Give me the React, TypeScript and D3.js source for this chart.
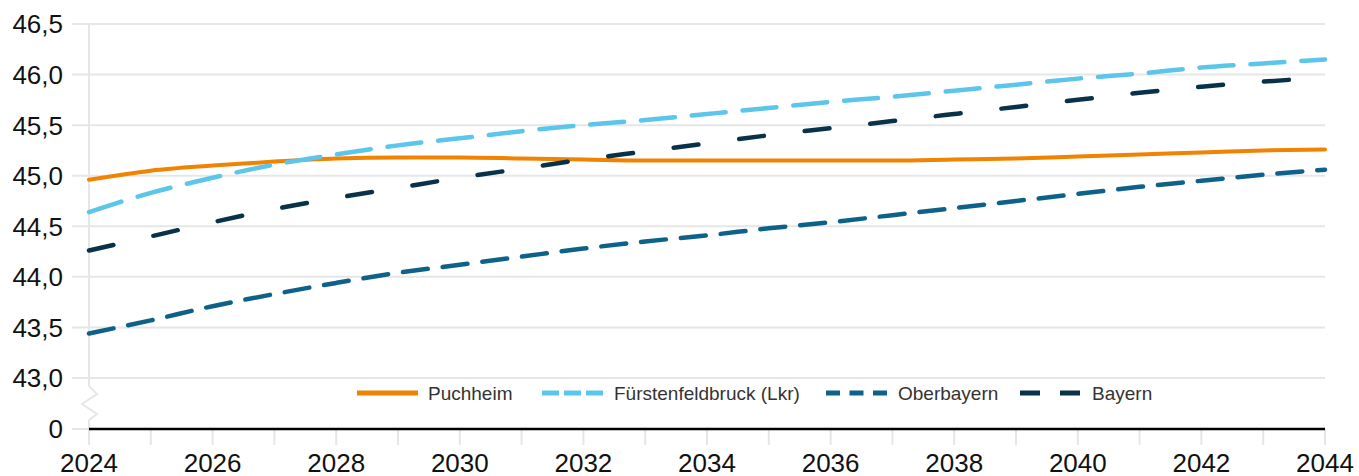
import React from "react";
import * as d3 from "d3";

const years = d3.range(2024, 2045);
const yTicks = [43.0, 43.5, 44.0, 44.5, 45.0, 45.5, 46.0, 46.5];
const xTickLabels = [2024, 2026, 2028, 2030, 2032, 2034, 2036, 2038, 2040, 2042, 2044];

const puchheim = [44.96, 45.05, 45.10, 45.14, 45.17, 45.18, 45.18, 45.17, 45.16, 45.15, 45.15, 45.15, 45.15, 45.15, 45.16, 45.17, 45.19, 45.21, 45.23, 45.25, 45.26];
const fuerstenfeldbruck = [44.64, 44.83, 44.98, 45.11, 45.21, 45.30, 45.37, 45.44, 45.50, 45.55, 45.61, 45.67, 45.73, 45.78, 45.84, 45.90, 45.96, 46.01, 46.07, 46.11, 46.15];
const oberbayern = [43.44, 43.57, 43.71, 43.83, 43.94, 44.04, 44.12, 44.20, 44.28, 44.35, 44.41, 44.48, 44.54, 44.61, 44.68, 44.75, 44.82, 44.89, 44.95, 45.01, 45.06];
const bayern = [44.26, 44.40, 44.54, 44.67, 44.78, 44.88, 44.98, 45.07, 45.16, 45.24, 45.32, 45.40, 45.47, 45.54, 45.61, 45.68, 45.75, 45.82, 45.88, 45.93, 45.97];

const seriesNames = ["Puchheim", "Fürstenfeldbruck (Lkr)", "Oberbayern", "Bayern"];

export default function App() {
  const W = 1359, H = 476;
  const x = d3.scaleLinear().domain([2024, 2044]).range([89, 1325]);
  const y = d3.scaleLinear().domain([43, 46.5]).range([378, 24]);
  const y0 = 429;

  const series = [
    { name: seriesNames[0], data: puchheim, color: "#f08300", dash: "", legendDash: "", width: 4 },
    { name: seriesNames[1], data: fuerstenfeldbruck, color: "#5bc5ea", dash: "34 17", legendDash: "17 5", width: 4.5 },
    { name: seriesNames[2], data: oberbayern, color: "#0e6289", dash: "25 15", legendDash: "14 9.5", width: 4.5 },
    { name: seriesNames[3], data: bayern, color: "#08324a", dash: "25 41", legendDash: "20 20", width: 4.5 },
  ];

  const line = d3
    .line<number>()
    .x((_, i) => x(years[i]))
    .y((d) => y(d))
    .curve(d3.curveMonotoneX);

  const grid = "#e6e6e6";
  const fmt = (v: number) => v.toFixed(1).replace(".", ",");

  const legendItems = [
    { lx: 357, tx: 428 },
    { lx: 542, tx: 614 },
    { lx: 826, tx: 898 },
    { lx: 1020, tx: 1092 },
  ];
  const ly = 393;

  return (
    <svg width={W} height={H} style={{ position: "absolute", left: 0, top: 0 }} fontFamily="'Liberation Sans', Arial, sans-serif">
      <rect width={W} height={H} fill="#fff" />
      {yTicks.map((t) => (
        <line key={t} x1={72} x2={1325} y1={y(t)} y2={y(t)} stroke={grid} strokeWidth={2} />
      ))}
      <line x1={72} x2={89} y1={y0} y2={y0} stroke={grid} strokeWidth={2} />
      <line x1={89} x2={89} y1={y(46.5)} y2={382} stroke={grid} strokeWidth={2} />
      <polyline
        points="89,382 89,386 97,394 82,404 97,414 89,420 89,429"
        fill="none"
        stroke={grid}
        strokeWidth={2}
      />
      {years.map((yr) => (
        <line key={yr} x1={x(yr)} x2={x(yr)} y1={y0} y2={445} stroke={grid} strokeWidth={2} />
      ))}
      {yTicks.map((t) => (
        <text key={t} x={63} y={y(t)} dy="0.36em" textAnchor="end" fontSize={26} fill="#111">
          {fmt(t)}
        </text>
      ))}
      <text x={63} y={y0} dy="0.36em" textAnchor="end" fontSize={26} fill="#111">0</text>
      {xTickLabels.map((t) => (
        <text key={t} x={x(t)} y={472} textAnchor="middle" fontSize={26} fill="#111">
          {t}
        </text>
      ))}
      <line x1={89} x2={1325} y1={y0} y2={y0} stroke="#000" strokeWidth={2.5} />
      {series.map((s) => (
        <path
          key={s.name}
          d={line(s.data) || ""}
          fill="none"
          stroke={s.color}
          strokeWidth={s.width}
          strokeDasharray={s.dash || undefined}
          strokeLinecap="round"
        />
      ))}
      {series.map((s, i) => (
        <g key={s.name}>
          <line
            x1={legendItems[i].lx}
            x2={legendItems[i].lx + 61}
            y1={ly}
            y2={ly}
            stroke={s.color}
            strokeWidth={5}
            strokeDasharray={s.legendDash || undefined}
          />
          <text x={legendItems[i].tx} y={ly} dy="0.35em" fontSize={19} fill="#333">
            {s.name}
          </text>
        </g>
      ))}
    </svg>
  );
}
